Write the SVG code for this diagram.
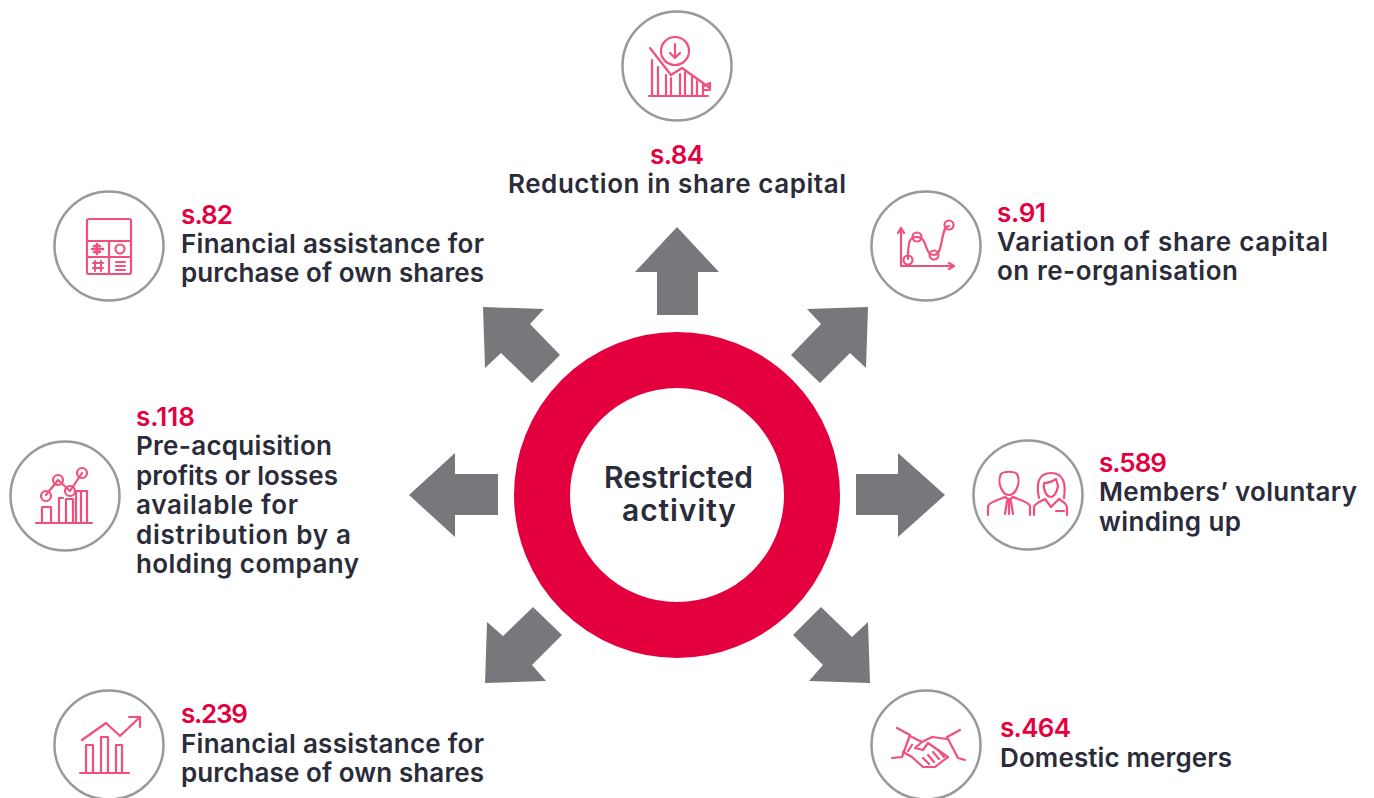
<svg xmlns="http://www.w3.org/2000/svg" width="1374" height="798" viewBox="0 0 1374 798">
<style>
text{font-family:"Inter","Liberation Sans",sans-serif;font-weight:600;font-size:26px;fill:#2a2c3a}
.s{fill:#e4003f}
.c{font-size:30px}
.o{fill:#fff;stroke:#98999d;stroke-width:2.5}
.i{fill:none;stroke:#f0507c;stroke-width:2.2;stroke-linejoin:round;stroke-linecap:round}
.a{fill:#77787c}
</style>
<rect width="1374" height="798" fill="#fff"/>
<g id="connectors" class="a">
<polygon points="677,227 719,272 698,272 698,315 657,315 657,272 635,272"/>
<polygon points="868,307 807,309 821,324 791,355 820,383 850,353 866,368"/>
<polygon points="945,495 898,453 898,474 856,474 856,515 898,515 898,537"/>
<polygon points="870,683 809,681 823,665 793,635 821,607 852,637 868,622"/>
<polygon points="485,683 546,681 532,665 562,635 533,607 503,636 487,622"/>
<polygon points="409,495 455,453 455,474 498,474 498,515 455,515 455,537"/>
<polygon points="483,307 544,309 530,324 560,355 532,383 501,353 485,368"/>
</g>
<g id="center">
<circle cx="677" cy="495" r="135" fill="#fff" stroke="#e4003f" stroke-width="56"/>
<text class="c" x="604" y="488" textLength="149">Restricted</text>
<text class="c" x="622" y="521" textLength="114">activity</text>
</g>
<g id="s84">
<circle class="o" cx="677" cy="66" r="54.5"/>
<g class="i">
<circle cx="675" cy="51" r="14"/>
<path d="M675 44V58M670 53L675 58L680 53"/>
<path d="M650 48L671 75L682 68L710 88"/>
<path d="M652 60V95M658 67V95M666 75V95M671 78V95M680 74V95M685 72V95M692 77V95M697 81V95M703 85V95M649 96H708M704 86L710 83V90L703 90"/>
</g>
<text class="s" x="650" y="164" textLength="54">s.84</text>
<text x="508" y="193" textLength="338">Reduction in share capital</text>
</g>
<g id="s82">
<circle class="o" cx="109" cy="246" r="54.5"/>
<g class="i">
<rect x="87" y="219" width="44" height="55" rx="2"/>
<path d="M87 241H131M87 257H131M109 241V274"/>
<path d="M97 244V254M92 249H103M94 246H100M94 252H100" stroke-width="2.5"/>
<circle cx="120" cy="249" r="4.5"/>
<path d="M93 263H103M93 268H103M95 261V271M101 261V271M116 262H125M116 266H125M116 270H125" stroke-width="2"/>
</g>
<text class="s" x="181" y="224" textLength="52">s.82</text>
<text x="181" y="253" textLength="303">Financial assistance for</text>
<text x="181" y="282" textLength="303">purchase of own shares</text>
</g>
<g id="s91">
<circle class="o" cx="926" cy="246" r="54.5"/>
<g class="i">
<path d="M901 231V266H953"/>
<path d="M898 233L901 228L904 233M949 263L954 266L949 269"/>
<path d="M908 259C908 240 910 237 917 237C928 237 924 255 934 255C944 255 940 226 949 226"/>
<circle cx="908" cy="260" r="4.5"/><circle cx="917" cy="237" r="4.5"/><circle cx="934" cy="255" r="4.5"/><circle cx="949" cy="225" r="4.5"/>
</g>
<text class="s" x="997" y="222" textLength="49">s.91</text>
<text x="997" y="251" textLength="331">Variation of share capital</text>
<text x="997" y="280" textLength="241">on re-organisation</text>
</g>
<g id="s118">
<circle class="o" cx="65" cy="496" r="54.5"/>
<g class="i">
<path d="M36 523H92M42 523V507H51V523M59 523V498H63M73 523V499H66V523M76 523V491H87V523M81 491V523"/>
<path d="M46 495L58 480M58 480L70 491M70 491L82 473"/>
<circle cx="46" cy="496" r="5"/><circle cx="58" cy="480" r="5"/><circle cx="70" cy="491" r="5"/><circle cx="82" cy="473" r="5"/>
</g>
<text class="s" x="136" y="426" textLength="59">s.118</text>
<text x="136" y="455" textLength="196">Pre-acquisition</text>
<text x="136" y="485" textLength="202">profits or losses</text>
<text x="136" y="514" textLength="162">available for</text>
<text x="136" y="544" textLength="215">distribution by a</text>
<text x="136" y="573" textLength="223">holding company</text>
</g>
<g id="s589">
<circle class="o" cx="1028" cy="495" r="54.5"/>
<g class="i">
<path d="M1001 474C999 478 999 484 1001 488C1003 493 1006 495 1009 495C1012 495 1015 493 1017 488C1019 484 1019 478 1017 474C1014 471 1004 471 1001 474Z"/>
<path d="M988 515V506C989 502 998 500 1005 497L1009 500L1013 497C1020 500 1029 502 1030 506V515M1007 501L1005 514M1011 501L1013 514M1009 500V514"/>
<path d="M1039 498C1036 484 1038 473 1051 473C1064 473 1066 484 1064 498"/>
<path d="M1044 483C1050 483 1053 481 1056 479L1058 486C1057 492 1054 497 1051 497C1047 497 1043 491 1044 483Z"/>
<path d="M1034 515V507C1035 503 1040 502 1045 499L1051 507L1059 499C1063 502 1067 503 1067 508V515M1056 511H1064"/>
</g>
<text class="s" x="1099" y="472" textLength="68">s.589</text>
<text x="1099" y="501" textLength="258">Members’ voluntary</text>
<text x="1099" y="531" textLength="142">winding up</text>
</g>
<g id="s239">
<circle class="o" cx="109" cy="745" r="54.5"/>
<g class="i">
<path d="M80 773H129M86 773V745H93V773M101 773V737H108V773M116 773V745H122V773"/>
<path d="M82 740L106 723L120 736L140 717M129 717H140V727"/>
</g>
<text class="s" x="181" y="723" textLength="67">s.239</text>
<text x="181" y="753" textLength="303">Financial assistance for</text>
<text x="181" y="782" textLength="303">purchase of own shares</text>
</g>
<g id="s464">
<circle class="o" cx="926" cy="745" r="54.5"/>
<g class="i">
<path d="M897 728L910 735L902 757L892 758M960 730L947 737L958 758L965 760"/>
<path d="M910 736L922 742L932 737L947 739M922 742L915 748L923 750L928 743L948 757M903 752L912 757L923 767H935L948 757"/>
<path d="M912 745L908 751M923 758L929 764M928 755L934 762M933 752L939 759M938 750L944 757"/>
</g>
<text class="s" x="1000" y="737" textLength="71">s.464</text>
<text x="1000" y="767" textLength="232">Domestic mergers</text>
</g>
</svg>
